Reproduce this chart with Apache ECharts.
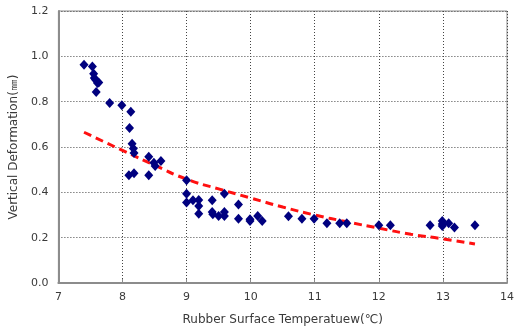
<!DOCTYPE html>
<html>
<head>
<meta charset="utf-8">
<script src="https://cdn.jsdelivr.net/npm/echarts@6/dist/echarts.min.js"></script>
<style>
  html, body { margin: 0; padding: 0; background: #fff; }
  #chart { width: 517px; height: 331px; }
</style>
</head>
<body>
<div id="chart"></div>
<script>
// measured points (temperature ℃, deformation mm)
const tempC = [
  7.40, 7.53, 7.55, 7.56, 7.58, 7.61, 7.63, 7.59, 7.80, 7.99,
  8.13, 8.11, 8.15, 8.17, 8.18, 8.41, 8.49, 8.51, 8.60, 8.10,
  8.18, 8.41, 9.00, 9.00, 9.00, 9.10, 9.19, 9.19, 9.19, 9.40,
  9.40, 9.41, 9.50, 9.59, 9.59, 9.59, 9.81, 9.81, 9.99, 9.99,
  10.11, 10.18, 10.59, 10.80, 10.99, 11.19, 11.39, 11.50, 12.00, 12.18,
  12.80, 12.99, 12.99, 12.99, 13.09, 13.18, 13.50
];
const deformMm = [
  0.963, 0.955, 0.923, 0.904, 0.897, 0.882, 0.885, 0.843, 0.794, 0.784,
  0.755, 0.684, 0.614, 0.593, 0.574, 0.557, 0.530, 0.516, 0.538, 0.475,
  0.484, 0.475, 0.453, 0.394, 0.355, 0.365, 0.366, 0.340, 0.306, 0.365,
  0.313, 0.303, 0.296, 0.313, 0.296, 0.394, 0.346, 0.284, 0.281, 0.274,
  0.296, 0.274, 0.294, 0.284, 0.284, 0.264, 0.264, 0.264, 0.255, 0.255,
  0.255, 0.274, 0.260, 0.252, 0.264, 0.245, 0.255
];

// trend line
const trendX = [7.4, 8.0, 8.5, 9.0, 9.5, 10.0, 10.5, 11.0, 11.5, 12.0, 12.5, 13.0, 13.5];
const trendY = [0.665, 0.585, 0.52, 0.458, 0.415, 0.375, 0.335, 0.30, 0.27, 0.242, 0.215, 0.195, 0.172];

const xTitle = "Rubber Surface Temperatuew(℃)";
const yTitle = "Vertical Deformation(㎜)";

const textColor = "#3a3a3a";
const font = "DejaVu Sans";

const chart = echarts.init(document.getElementById("chart"));

chart.setOption({
  animation: false,
  backgroundColor: "#fff",
  grid: {
    left: 54, right: 10, top: 11, bottom: 47,
    show: true, borderColor: "#8c8c8c", borderWidth: 1
  },
  xAxis: {
    type: "value",
    min: 7, max: 14, interval: 1,
    name: xTitle,
    nameLocation: "middle",
    nameGap: 31,
    nameTextStyle: { color: textColor, fontSize: 12, fontFamily: font },
    axisLine: { lineStyle: { color: "#8c8c8c", width: 2 } },
    axisTick: { inside: true, length: 4, lineStyle: { color: "#8c8c8c" } },
    axisLabel: { color: textColor, fontSize: 11, fontFamily: font, margin: 9 },
    splitLine: { lineStyle: { color: "#444", type: [1, 2], width: 1 } }
  },
  yAxis: {
    type: "value",
    min: 0, max: 1.2, interval: 0.2,
    name: yTitle,
    nameLocation: "middle",
    nameGap: 38,
    nameTextStyle: { color: textColor, fontSize: 12, fontFamily: font },
    axisLine: { show: true, lineStyle: { color: "#8c8c8c", width: 2 } },
    axisTick: { show: false },
    axisLabel: {
      color: textColor, fontSize: 11, fontFamily: font, margin: 10,
      formatter: (v) => v.toFixed(1)
    },
    splitLine: { lineStyle: { color: "#444", type: [1, 2], width: 1 } }
  },
  series: [
    {
      name: "trend",
      type: "line",
      data: trendX.map((x, i) => [x, trendY[i]]),
      smooth: true,
      showSymbol: false,
      lineStyle: { color: "#ff1010", width: 3, type: [8, 5] },
      z: 2
    },
    {
      name: "measured",
      type: "scatter",
      data: tempC.map((x, i) => [x, deformMm[i]]),
      symbol: "diamond",
      symbolSize: [9, 10],
      itemStyle: { color: "#00007f", opacity: 1 },
      z: 3
    }
  ]
});
</script>
</body>
</html>
